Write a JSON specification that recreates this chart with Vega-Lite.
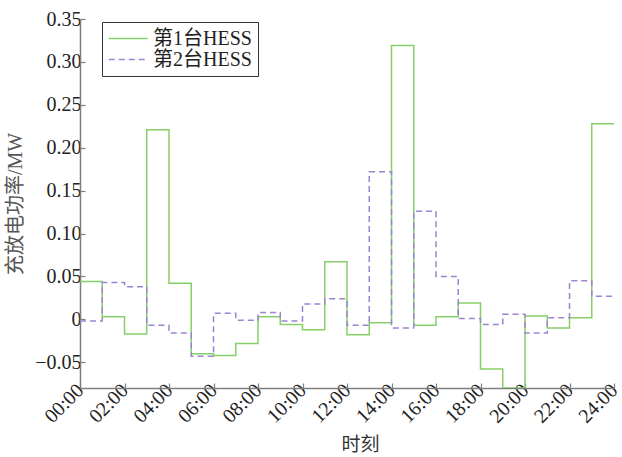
{
  "$schema": "https://vega.github.io/schema/vega-lite/v6.json",
  "width": 534,
  "height": 369,
  "autosize": {"type": "none"},
  "padding": {"left": 80, "top": 19, "right": 8, "bottom": 69},
  "background": "white",
  "config": {
    "view": {"stroke": null},
    "font": "Liberation Serif, Noto Sans CJK SC"
  },
  "data": {
    "values": [
      {"hour": 0, "power": 0.044, "hess": "第1台HESS"},
      {"hour": 1, "power": 0.003, "hess": "第1台HESS"},
      {"hour": 2, "power": -0.017, "hess": "第1台HESS"},
      {"hour": 3, "power": 0.221, "hess": "第1台HESS"},
      {"hour": 4, "power": 0.042, "hess": "第1台HESS"},
      {"hour": 5, "power": -0.040, "hess": "第1台HESS"},
      {"hour": 6, "power": -0.042, "hess": "第1台HESS"},
      {"hour": 7, "power": -0.028, "hess": "第1台HESS"},
      {"hour": 8, "power": 0.003, "hess": "第1台HESS"},
      {"hour": 9, "power": -0.006, "hess": "第1台HESS"},
      {"hour": 10, "power": -0.012, "hess": "第1台HESS"},
      {"hour": 11, "power": 0.067, "hess": "第1台HESS"},
      {"hour": 12, "power": -0.018, "hess": "第1台HESS"},
      {"hour": 13, "power": -0.004, "hess": "第1台HESS"},
      {"hour": 14, "power": 0.319, "hess": "第1台HESS"},
      {"hour": 15, "power": -0.007, "hess": "第1台HESS"},
      {"hour": 16, "power": 0.003, "hess": "第1台HESS"},
      {"hour": 17, "power": 0.019, "hess": "第1台HESS"},
      {"hour": 18, "power": -0.058, "hess": "第1台HESS"},
      {"hour": 19, "power": -0.080, "hess": "第1台HESS"},
      {"hour": 20, "power": 0.004, "hess": "第1台HESS"},
      {"hour": 21, "power": -0.010, "hess": "第1台HESS"},
      {"hour": 22, "power": 0.002, "hess": "第1台HESS"},
      {"hour": 23, "power": 0.228, "hess": "第1台HESS"},
      {"hour": 24, "power": 0.228, "hess": "第1台HESS"},
      {"hour": 0, "power": -0.002, "hess": "第2台HESS"},
      {"hour": 1, "power": 0.043, "hess": "第2台HESS"},
      {"hour": 2, "power": 0.038, "hess": "第2台HESS"},
      {"hour": 3, "power": -0.007, "hess": "第2台HESS"},
      {"hour": 4, "power": -0.016, "hess": "第2台HESS"},
      {"hour": 5, "power": -0.043, "hess": "第2台HESS"},
      {"hour": 6, "power": 0.007, "hess": "第2台HESS"},
      {"hour": 7, "power": -0.001, "hess": "第2台HESS"},
      {"hour": 8, "power": 0.008, "hess": "第2台HESS"},
      {"hour": 9, "power": -0.002, "hess": "第2台HESS"},
      {"hour": 10, "power": 0.018, "hess": "第2台HESS"},
      {"hour": 11, "power": 0.024, "hess": "第2台HESS"},
      {"hour": 12, "power": -0.007, "hess": "第2台HESS"},
      {"hour": 13, "power": 0.172, "hess": "第2台HESS"},
      {"hour": 14, "power": -0.010, "hess": "第2台HESS"},
      {"hour": 15, "power": 0.126, "hess": "第2台HESS"},
      {"hour": 16, "power": 0.050, "hess": "第2台HESS"},
      {"hour": 17, "power": 0.001, "hess": "第2台HESS"},
      {"hour": 18, "power": -0.006, "hess": "第2台HESS"},
      {"hour": 19, "power": 0.006, "hess": "第2台HESS"},
      {"hour": 20, "power": -0.016, "hess": "第2台HESS"},
      {"hour": 21, "power": 0.002, "hess": "第2台HESS"},
      {"hour": 22, "power": 0.045, "hess": "第2台HESS"},
      {"hour": 23, "power": 0.027, "hess": "第2台HESS"},
      {"hour": 24, "power": 0.027, "hess": "第2台HESS"}
    ]
  },
  "mark": {"type": "line", "interpolate": "step-after", "strokeWidth": 1.5, "clip": true},
  "encoding": {
    "x": {
      "field": "hour",
      "type": "quantitative",
      "scale": {"domain": [0, 24], "nice": false, "zero": false},
      "axis": {
        "title": "时刻",
        "titleFont": "Noto Sans CJK SC",
        "titleFontSize": 19,
        "titleFontWeight": "normal",
        "titleColor": "#333333",
        "titlePadding": 9,
        "titleX": 280,
        "values": [0, 2, 4, 6, 8, 10, 12, 14, 16, 18, 20, 22, 24],
        "labelExpr": "(datum.value < 10 ? '0' : '') + datum.value + ':00'",
        "labelAngle": -45,
        "labelAlign": "right",
        "labelBaseline": "middle",
        "labelFontSize": 20,
        "labelColor": "#222222",
        "labelPadding": 4,
        "labelOverlap": false,
        "labelBound": false,
        "labelFlush": false,
        "grid": false,
        "domainColor": "#7f7f7f",
        "domainWidth": 1.5,
        "tickColor": "#7f7f7f",
        "tickSize": -5,
        "tickWidth": 1.2
      }
    },
    "y": {
      "field": "power",
      "type": "quantitative",
      "scale": {"domain": [-0.08, 0.35], "nice": false, "zero": false},
      "axis": {
        "title": "充放电功率/MW",
        "titleFont": "Liberation Serif, Noto Sans CJK SC",
        "titleFontSize": 20,
        "titleFontWeight": "normal",
        "titleColor": "#555555",
        "titlePadding": 9,
        "values": [-0.05, 0, 0.05, 0.1, 0.15, 0.2, 0.25, 0.3, 0.35],
        "labelExpr": "datum.value == 0 ? '0' : format(datum.value, '.2f')",
        "labelFontSize": 20,
        "labelColor": "#222222",
        "labelPadding": 4,
        "labelBound": false,
        "labelFlush": false,
        "grid": false,
        "domainColor": "#7f7f7f",
        "domainWidth": 1.5,
        "tickColor": "#7f7f7f",
        "tickSize": -5,
        "tickWidth": 1.2
      }
    },
    "color": {
      "field": "hess",
      "type": "nominal",
      "scale": {"domain": ["第1台HESS", "第2台HESS"], "range": ["#86cf68", "#9b84d0"]},
      "legend": {
        "title": null,
        "orient": "none",
        "legendX": 22,
        "legendY": 3,
        "direction": "vertical",
        "strokeColor": "#333333",
        "fillColor": "white",
        "padding": 6,
        "symbolType": "M-1,0L3,0",
        "symbolSize": 380,
        "symbolStrokeWidth": 1.5,
        "labelFontSize": 20,
        "labelColor": "#222222",
        "labelFont": "Liberation Serif, Noto Sans CJK SC",
        "rowPadding": 0,
        "labelOffset": 24
      }
    },
    "strokeDash": {
      "field": "hess",
      "type": "nominal",
      "scale": {"domain": ["第1台HESS", "第2台HESS"], "range": [[1, 0], [6, 4]]},
      "legend": null
    }
  }
}
